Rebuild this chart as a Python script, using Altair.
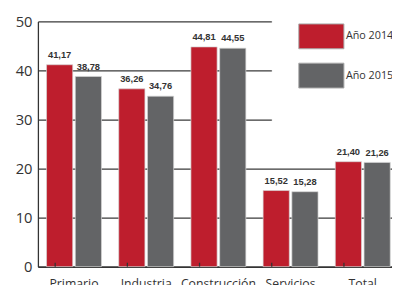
import altair as alt
import pandas as pd

categories = ["Primario", "Industria", "Construcción", "Servicios", "Total"]
series = ["Año 2014", "Año 2015"]
values_2014 = [41.17, 36.26, 44.81, 15.52, 21.40]
values_2015 = [38.78, 34.76, 44.55, 15.28, 21.26]
y_ticks = [0, 10, 20, 30, 40, 50]
colors = ["#be1e2d", "#636466"]

rows = []
for s, vals in zip(series, [values_2014, values_2015]):
    for c, v in zip(categories, vals):
        rows.append({"cat": c, "serie": s, "value": v,
                     "label": f"{v:.2f}".replace(".", ",")})
df = pd.DataFrame(rows)

FONT = "Open Sans"
NUMFONT = "Liberation Sans"
DARK = "#333333"

x_scale = alt.Scale(domain=categories, range=[0, 368], paddingInner=0.239, paddingOuter=0.1195)
xo_scale = alt.Scale(domain=series, paddingInner=0.089, paddingOuter=0)
y_scale = alt.Scale(domain=[0, 50], nice=False)

x_axis = alt.Axis(title=None, labelAngle=0, ticks=False, tickSize=0,
                  labelPadding=11, labelFontSize=12.5, labelFont=FONT,
                  labelColor=DARK, domainColor=DARK, domainWidth=1.5,
                  grid=False, labelBaseline="top")
y_axis = alt.Axis(title=None, values=y_ticks, tickSize=0, labelPadding=6,
                  labelFontSize=15, labelFont=FONT, labelColor=DARK,
                  domainColor=DARK, domainWidth=1.3, grid=True,
                  gridColor="#3a3a3a", gridWidth=1.3)

base = alt.Chart(df)

bars = base.mark_bar(stroke="#d6d6d6", strokeWidth=0.7).encode(
    x=alt.X("cat:N", sort=categories, scale=x_scale, axis=x_axis),
    xOffset=alt.XOffset("serie:N", scale=xo_scale),
    y=alt.Y("value:Q", scale=y_scale, axis=y_axis),
    color=alt.Color("serie:N", scale=alt.Scale(domain=series, range=colors),
                    legend=alt.Legend(title=None, orient="none", legendX=238.5, legendY=-29.3,
                                      symbolType="M-1.48,-1.1H2.52V1.1H-1.48Z", symbolSize=529,
                                      rowPadding=10, labelOffset=19, padding=32.5,
                                      fillColor="white", strokeColor="white",
                                      labelFont=FONT, labelFontSize=11, labelColor=DARK,
                                      symbolStrokeColor="#a8a8a8", symbolStrokeWidth=1,
                                      symbolOpacity=1)),
)

text = base.mark_text(dy=-7, baseline="alphabetic", font=NUMFONT, fontWeight="bold",
                      fontSize=9.5, color=DARK).encode(
    x=alt.X("cat:N", sort=categories, scale=x_scale, axis=x_axis),
    xOffset=alt.XOffset("serie:N", scale=xo_scale),
    y=alt.Y("value:Q", scale=y_scale, axis=y_axis),
    text="label:N",
)

# small inward ticks at the boundaries between category groups
ticks = base.transform_filter(alt.datum.serie == series[0]).mark_rule(
    color=DARK, strokeWidth=1.3).encode(
    x=alt.X("cat:N", sort=categories, scale=x_scale, axis=x_axis, bandPosition=1),
    xOffset=alt.value(8.8),
    y=alt.value(250),
    y2=alt.value(246),
)

chart = alt.layer(bars, text, ticks).properties(
    width=361, height=250,
    autosize=alt.AutoSizeParams(type="none"),
    padding={"left": 30.5, "top": 11, "right": 0, "bottom": 16},
    background="white",
).configure_view(stroke=None)

chart.save("out.html", embed_options={"renderer": "svg", "actions": False})
